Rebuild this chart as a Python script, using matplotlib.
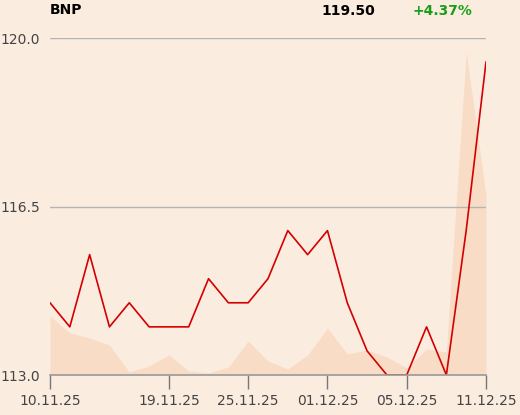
import matplotlib
matplotlib.use("Agg")
import matplotlib.pyplot as plt

price = [114.5, 114.0, 115.5, 114.0, 114.5, 114.0, 114.0, 114.0, 115.0, 114.5,
         114.5, 115.0, 116.0, 115.5, 116.0, 114.5, 113.5, 113.0, 113.0, 114.0,
         113.0, 116.0, 119.5]
volume = [59, 42, 37, 30, 3, 9, 20, 4, 2, 8, 34, 14, 6, 20, 47, 21, 25, 18, 7,
          26, 23, 323, 180]
tick_pos = [0, 6, 10, 14, 18, 22]
tick_labels = ["10.11.25", "19.11.25", "25.11.25", "01.12.25", "05.12.25", "11.12.25"]
y_ticks = [113.0, 116.5, 120.0]
name = "BNP"
last_price = "119.50"
change = "+4.37%"

bg = "#fbece0"
W, H = 520, 415
fig = plt.figure(figsize=(W / 100, H / 100), dpi=100, facecolor=bg)
l, r, t, b = 50, 486, 38, 375
ax = fig.add_axes([l / W, 1 - b / H, (r - l) / W, (b - t) / H])
ax.set_facecolor("none")
axv = ax.twinx()
axv.set_zorder(0)
ax.set_zorder(1)
ax.patch.set_visible(False)

x = list(range(len(price)))
axv.fill_between(x, volume, 0, color="#f8dcc6", lw=0)
axv.set_ylim(0, b - t)
axv.axis("off")

ax.plot(x, price, color="#d40000", lw=1.2)
ax.set_xlim(0, len(price) - 1)
ax.set_ylim(113.0, 120.0)
ax.set_yticks(y_ticks)
ax.set_yticklabels([f"{v:.1f}" for v in y_ticks])
ax.set_xticks(tick_pos)
ax.set_xticklabels(tick_labels)
ax.tick_params(axis="y", length=0, pad=7, labelsize=10, labelcolor="#444444")
ax.tick_params(axis="x", length=10, width=1, color="#777777", pad=4,
               labelsize=10, labelcolor="#444444")
for s in ["left", "right", "top"]:
    ax.spines[s].set_visible(False)
ax.spines["bottom"].set_color("#999999")
ax.spines["bottom"].set_linewidth(1.2)
for yv in y_ticks[1:]:
    ax.axhline(yv, color="#b4b4b4", lw=1, zorder=0)

fig.text(50 / W, 1 - 10 / H, name, fontsize=10, fontweight="bold", va="center", ha="left")
fig.text(375 / W, 1 - 11 / H, last_price, fontsize=10, fontweight="bold", va="center", ha="right")
fig.text(472 / W, 1 - 11 / H, change, fontsize=10, fontweight="bold", va="center",
         ha="right", color="#1a9e1a")

fig.savefig("out.png", dpi=100, facecolor=bg)
